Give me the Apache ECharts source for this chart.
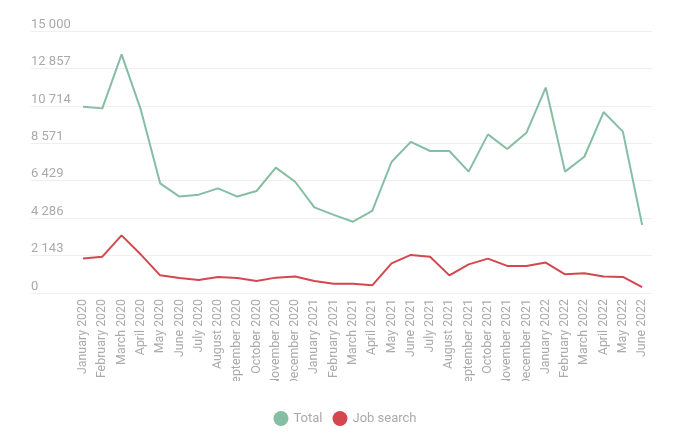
<!DOCTYPE html>
<html><head><meta charset="utf-8">
<script src="https://cdn.jsdelivr.net/npm/echarts@6/dist/echarts.min.js"></script>
<style>html,body{margin:0;padding:0;background:#fff}#c{width:690px;height:435px}</style>
</head><body><div id="c"></div>
<script>
var categories = ["January 2020","February 2020","March 2020","April 2020","May 2020","June 2020","July 2020","August 2020","September 2020","October 2020","November 2020","December 2020","January 2021","February 2021","March 2021","April 2021","May 2021","June 2021","July 2021","August 2021","September 2021","October 2021","November 2021","December 2021","January 2022","February 2022","March 2022","April 2022","May 2022","June 2022"];
var totalValues = [10660,10570,13660,10480,6280,5520,5630,5990,5520,5840,7180,6370,4900,4470,4080,4700,7500,8650,8130,8130,6950,9080,8240,9180,11760,6950,7800,10360,9240,3890];
var jobSearchValues = [1970,2080,3300,2200,1010,860,750,920,860,690,880,940,690,530,530,440,1700,2180,2080,1010,1640,1970,1550,1550,1740,1070,1130,950,920,340];
var yMax = 15000;
var yInterval = 15000 / 7;

function fmt(v){ return Math.round(v).toString().replace(/\B(?=(\d{3})+(?!\d))/g, ' '); }

var chart = echarts.init(document.getElementById('c'));
chart.setOption({
  animation: false,
  textStyle: { fontFamily: 'Roboto' },
  grid: [
    { left: 31, right: 38, top: 31, bottom: 142 },
    { left: 73.4, right: 38.2, top: 31, bottom: 142 }
  ],
  xAxis: [
    { gridIndex: 0, type: 'category', data: categories, show: false },
    { gridIndex: 1, type: 'category', data: categories, boundaryGap: true,
      axisLine: { show: false }, axisTick: { show: false },
      axisLabel: { rotate: 90, interval: 0, color: '#aaa', fontSize: 12.4, margin: 6, fontFamily: 'Roboto' } }
  ],
  yAxis: [
    { gridIndex: 0, type: 'value', min: 0, max: yMax, interval: yInterval,
      axisLine: { show: false }, axisTick: { show: false },
      splitLine: { lineStyle: { color: '#efefef', width: 1 } },
      axisLabel: { inside: true, margin: 0, color: '#aaa', fontSize: 13, verticalAlign: 'bottom', padding: [0,0,0,0], formatter: fmt, fontFamily: 'Roboto' } },
    { gridIndex: 1, type: 'value', min: 0, max: yMax, interval: yInterval, show: false, splitLine: { show: false } }
  ],
  legend: {
    bottom: 4, left: 'center', icon: 'circle', itemWidth: 15, itemHeight: 15, itemGap: 10,
    textStyle: { color: '#aaa', fontSize: 13, fontFamily: 'Roboto' },
    data: ['Total', 'Job search']
  },
  graphic: [
    { type: 'rect', left: 0, top: 381, z: 100, shape: { width: 690, height: 20 }, style: { fill: '#fff' } }
  ],
  series: [
    { name: 'Total', type: 'line', xAxisIndex: 1, yAxisIndex: 1, data: totalValues, showSymbol: false, symbol: 'circle',
      lineStyle: { width: 2, color: '#86bea3' }, itemStyle: { color: '#86bea3' } },
    { name: 'Job search', type: 'line', xAxisIndex: 1, yAxisIndex: 1, data: jobSearchValues, showSymbol: false, symbol: 'circle',
      lineStyle: { width: 2, color: '#d4474f' }, itemStyle: { color: '#d4474f' } }
  ]
});
</script></body></html>
